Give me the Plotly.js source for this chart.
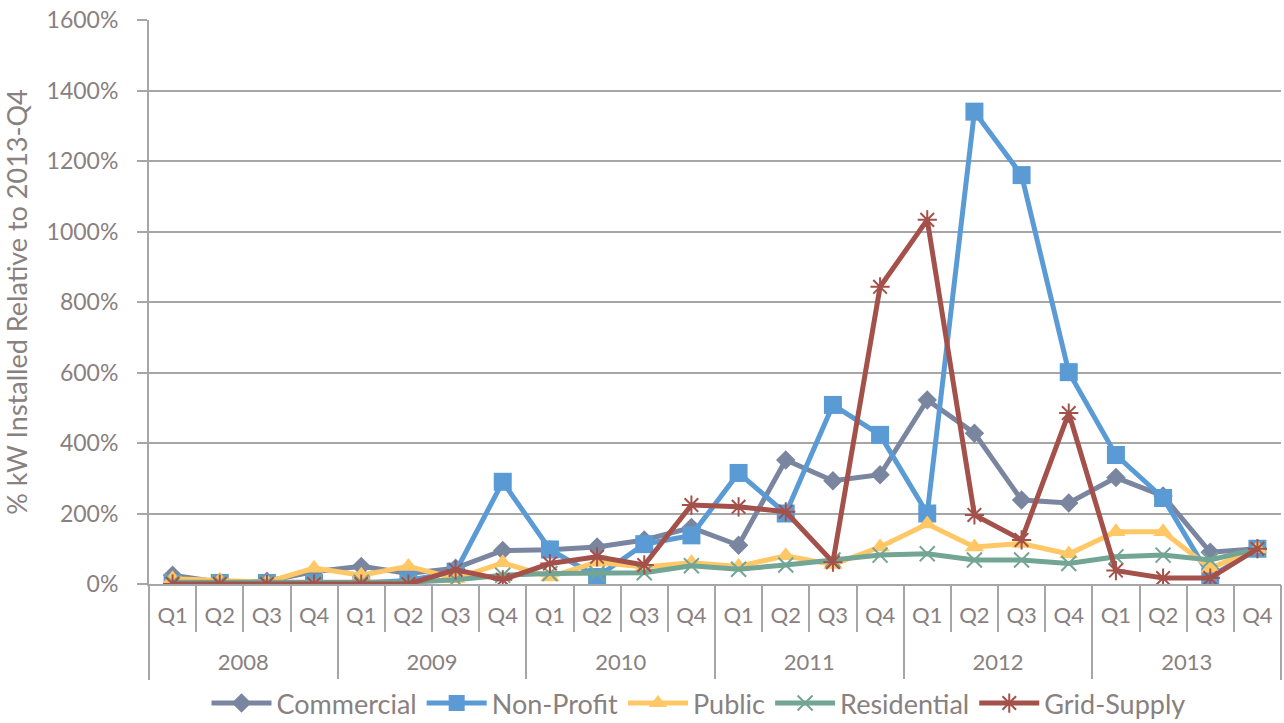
<!DOCTYPE html>
<html><head><meta charset="utf-8">
<script src="https://cdn.plot.ly/plotly-3.0.1.min.js"></script>
<style>body{margin:0;background:#fff}#c{width:1284px;height:723px}</style>
</head><body><div id="c"></div>
<script>
var years = ['2008','2008','2008','2008','2009','2009','2009','2009','2010','2010','2010','2010','2011','2011','2011','2011','2012','2012','2012','2012','2013','2013','2013','2013'];
var quarters = ['Q1','Q2','Q3','Q4','Q1','Q2','Q3','Q4','Q1','Q2','Q3','Q4','Q1','Q2','Q3','Q4','Q1','Q2','Q3','Q4','Q1','Q2','Q3','Q4'];
var yearLabels = ['2008','2009','2010','2011','2012','2013'];
var commercial = [25,5,8,35,50,30,45,95,97,105,125,160,110,352,293,310,522,428,238,230,302,250,90,100];
var nonProfit = [3,3,3,3,3,10,35,290,98,20,113,138,315,200,508,423,200,1340,1160,601,366,244,20,100];
var publicS = [15,10,5,45,25,50,15,60,20,62,48,60,50,80,55,105,170,105,115,85,148,148,45,100];
var residential = [5,5,5,5,5,5,12,25,30,30,32,52,42,54,68,82,86,68,68,58,77,82,68,100];
var gridSupply = [0,0,0,0,0,0,40,12,58,77,54,224,219,205,62,843,1033,196,125,485,38,17,17,100];

// category positions derived from the label arrays
var idx = quarters.map(function(q,i){return i;});
var qBounds = idx.map(function(i){return i-0.5;}).concat([quarters.length-0.5]);
var yearCenters = yearLabels.map(function(y){
  var f = years.indexOf(y), l = years.lastIndexOf(y); return (f+l)/2; });
var yearBounds = yearLabels.map(function(y){return years.indexOf(y)-0.5;}).concat([years.length-0.5]);
var xr = [-0.5, quarters.length-0.5];

var gridCol = '#a6a6a6', txt = '#898080';
function tr(name, y, color, sym, size, open){
  var m = {symbol: sym, size: size, color: color};
  if (open) m.line = {color: color, width: 2};
  return {type:'scatter', mode:'lines+markers', name:name, x:idx, y:y,
    line:{color:color, width:5}, marker:m};
}
var data = [
  tr('Commercial', commercial, '#7a86a0', 'diamond', 15),
  tr('Non-Profit', nonProfit, '#5b9bd5', 'square', 18),
  tr('Public', publicS, '#ffc765', 'triangle-up', 17),
  tr('Residential', residential, '#73a595', 'x-thin-open', 15, true),
  tr('Grid-Supply', gridSupply, '#a3514a', 'asterisk-open', 16, true),
  {type:'scatter', mode:'markers', x:yearCenters, y:yearCenters.map(function(){return null;}),
   xaxis:'x2', showlegend:false, hoverinfo:'skip'}
];
var layout = {
  width:1284, height:723,
  margin:{l:149, r:3, t:20, b:139},
  paper_bgcolor:'#fff', plot_bgcolor:'#fff',
  font:{family:'Lato, "Open Sans", sans-serif', color:txt, size:18},
  showlegend:true,
  legend:{orientation:'h', x:0.544, xanchor:'center', xref:'container', yref:'container', y:0.027, yanchor:'middle',
    font:{size:27, color:txt}, itemwidth:60, traceorder:'normal'},
  xaxis:{type:'linear', range:xr, showgrid:false, zeroline:false, showline:true, linecolor:gridCol, linewidth:2,
    tickmode:'array', tickvals:idx, ticktext:quarters, ticks:'', ticklabelstandoff:11,
    tickfont:{size:22, color:txt},
    minor:{tickmode:'array', tickvals:qBounds, ticks:'outside', ticklen:46, tickcolor:gridCol, tickwidth:2, showgrid:false}},
  xaxis2:{type:'linear', range:xr, overlaying:'x', anchor:'y', side:'bottom', showgrid:false, zeroline:false, showline:false,
    tickmode:'array', tickvals:yearCenters, ticktext:yearLabels, ticks:'', ticklabelstandoff:63,
    tickfont:{size:22, color:txt},
    minor:{tickmode:'array', tickvals:yearBounds, ticks:'outside', ticklen:95, tickcolor:gridCol, tickwidth:2, showgrid:false}},
  yaxis:{range:[0,1600], dtick:200, tickformat:'.0f', ticksuffix:'%', showgrid:true, gridcolor:gridCol, gridwidth:2,
    showline:true, linecolor:gridCol, linewidth:2, zeroline:false, ticks:'outside', ticklen:10, tickcolor:gridCol, tickwidth:2,
    ticklabelstandoff:14, tickfont:{size:23, color:txt},
    title:{text:'% kW Installed Relative to 2013-Q4', font:{size:27, color:txt}, standoff:14}}
};
Plotly.newPlot('c', data, layout, {displayModeBar:false});
</script></body></html>
